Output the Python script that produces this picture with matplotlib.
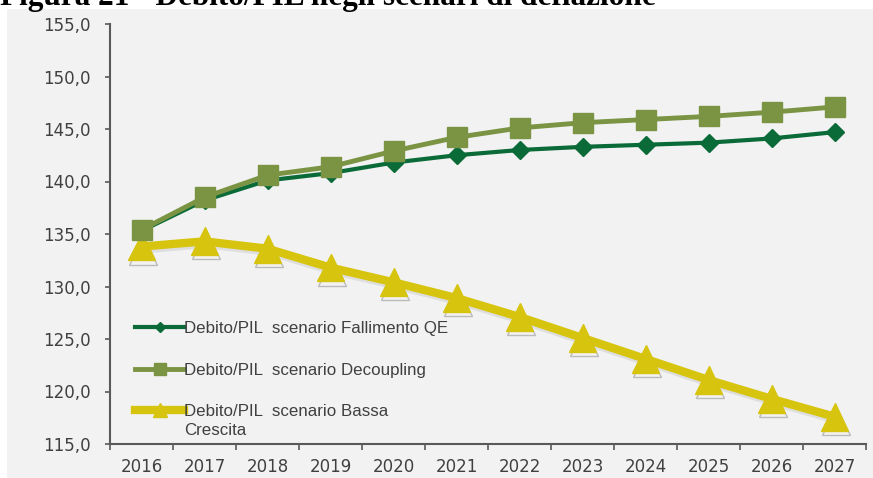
import matplotlib
matplotlib.use("Agg")
import matplotlib.pyplot as plt
from matplotlib.patches import Rectangle
from matplotlib.lines import Line2D
import matplotlib.patheffects as pe

years = ["2016", "2017", "2018", "2019", "2020", "2021", "2022", "2023", "2024", "2025", "2026", "2027"]
fallimento_qe = [135.3, 138.2, 140.1, 140.8, 141.8, 142.5, 143.0, 143.3, 143.5, 143.7, 144.1, 144.7]
decoupling = [135.4, 138.5, 140.6, 141.4, 142.9, 144.2, 145.1, 145.6, 145.9, 146.2, 146.6, 147.1]
bassa_crescita = [133.8, 134.3, 133.6, 131.8, 130.4, 128.9, 127.1, 125.1, 123.1, 121.1, 119.3, 117.6]
yticks = [115, 120, 125, 130, 135, 140, 145, 150, 155]
labels = ["Debito/PIL  scenario Fallimento QE",
          "Debito/PIL  scenario Decoupling",
          "Debito/PIL  scenario Bassa"]
label_cont = "Crescita"
title = "Figura 21 - Debito/PIL negli scenari di deflazione"

W, H = 873, 478
fig = plt.figure(figsize=(W / 100, H / 100), dpi=100)
fig.patches.append(Rectangle((7 / W, 0), 1 - 7 / W, 1 - 9 / H, transform=fig.transFigure,
                             facecolor="#f2f2f2", edgecolor="none", zorder=-10))
fig.text(0.0, 1 - 5 / H, title, fontsize=22.5, fontweight="bold", family="Liberation Serif",
         va="baseline", ha="left", color="black", zorder=-5)

ax = fig.add_axes([110 / W, (H - 444) / H, (866 - 110) / W, (444 - 24) / H])
ax.set_facecolor("none")

x = list(range(len(years)))
c_dark = "#0b6b38"
c_olive = "#7a9444"
c_yellow = "#d7c40e"
txt_color = "#404040"

line_shadow = [pe.SimpleLineShadow(offset=(0.5, -2), shadow_color="#888888", alpha=0.18), pe.Normal()]
marker_shadow = [pe.SimpleLineShadow(offset=(0.8, -3), shadow_color="#555555", alpha=0.35), pe.Normal()]

ax.plot(x, bassa_crescita, color=c_yellow, lw=6, zorder=3, path_effects=line_shadow, clip_on=False)
ax.plot(x, bassa_crescita, ls="none", marker="^", ms=20, color=c_yellow, mec=c_yellow,
        zorder=3.5, path_effects=marker_shadow, clip_on=False)
ax.plot(x, fallimento_qe, color=c_dark, lw=3, marker="D", ms=9, mec=c_dark, zorder=4, clip_on=False)
ax.plot(x, decoupling, color=c_olive, lw=3.5, marker="s", ms=14, mec=c_olive, zorder=5, clip_on=False)

ax.set_xlim(-0.5, len(years) - 0.5)
ax.set_ylim(115, 155)
ax.set_yticks(yticks)
ax.set_yticklabels([f"{v:.1f}".replace(".", ",") for v in yticks])
ax.set_xticks(x)
ax.set_xticklabels(years)
ax.set_xticks([i - 0.5 for i in range(len(years) + 1)], minor=True)
ax.tick_params(axis="x", which="major", length=0, pad=10)
ax.tick_params(axis="x", which="minor", length=4, width=1.2, color="#595959", direction="out")
ax.tick_params(axis="y", length=3.6, width=1.2, color="#595959", direction="out", pad=10.5)
for lab in ax.get_xticklabels() + ax.get_yticklabels():
    lab.set_fontsize(12)
    lab.set_color(txt_color)
    lab.set_family("DejaVu Sans")

for s in ["top", "right"]:
    ax.spines[s].set_visible(False)
for s in ["left", "bottom"]:
    ax.spines[s].set_color("#595959")
    ax.spines[s].set_linewidth(1.5)

handles = [
    Line2D([], [], color=c_dark, lw=3, marker="D", ms=5.5, mec=c_dark),
    Line2D([], [], color=c_olive, lw=3.5, marker="s", ms=8, mec=c_olive),
    Line2D([], [], color=c_yellow, lw=6, marker="^", ms=10, mec=c_yellow),
]
leg = ax.legend(handles, labels, loc="upper left",
                bbox_to_anchor=(120 / W, 1 - 306 / H), bbox_transform=fig.transFigure,
                frameon=False, handlelength=2.9, handletextpad=0.0, labelspacing=1.55,
                prop={"family": "Liberation Sans", "size": 12.2})
for t in leg.get_texts():
    t.set_color(txt_color)

fig.canvas.draw()
t3 = leg.get_texts()[2]
bb = t3.get_window_extent()
fig.text(bb.x0 / W, (bb.y0 - 4) / H, label_cont, fontsize=12.2, family="Liberation Sans",
         color=txt_color, ha="left", va="top")

fig.savefig("out.png", dpi=100)
